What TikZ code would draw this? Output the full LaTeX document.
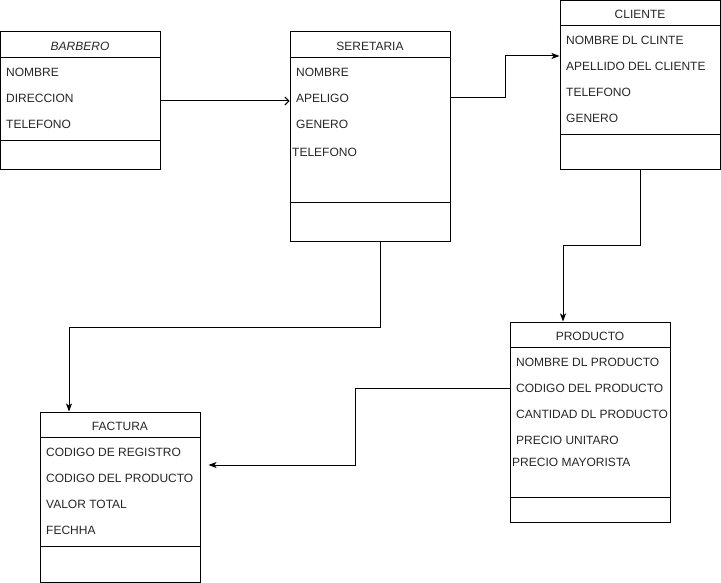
\documentclass[tikz,border=0pt]{standalone}
\usepackage{fontspec}
\setmainfont{Liberation Sans}
\usetikzlibrary{arrows.meta}
\tikzset{
  classbox/.style={draw=black, line width=1pt, minimum width=160pt, inner sep=0pt},
  attr/.style={anchor=west, inner sep=0pt, yshift=-1pt, text=black!85, font=\fontsize{12}{14}\selectfont},
  title/.style={inner sep=0pt, yshift=-1pt, text=black!85, font=\fontsize{12}{14}\selectfont},
  link/.style={line width=1pt, -{Stealth[length=8pt,width=6pt,inset=2pt]}},
}
\begin{document}
\begin{tikzpicture}[x=1pt,y=-1pt]
\useasboundingbox (0,0) rectangle (721,583);
% BARBERO
\node [classbox, minimum height=138pt] (barbero) at (80,101) {};
\node [title] (barberoT) at (80,45) {\textit{BARBERO}};
\draw [line width=1pt] ([yshift=-26pt]barbero.north west) -- ([yshift=-26pt]barbero.north east);
\draw [line width=1pt] ([yshift=30pt]barbero.south west) -- ([yshift=30pt]barbero.south east);
\node [attr] (b1) at (6,71) {NOMBRE};
\node [attr] (b2) at (6,97) {DIRECCION};
\node [attr] (b3) at (6,123) {TELEFONO};
% SERETARIA
\node [classbox, minimum height=210pt] (seretaria) at (370,137) {};
\node [title] (seretariaT) at (370,45) {SERETARIA};
\draw [line width=1pt] ([yshift=-26pt]seretaria.north west) -- ([yshift=-26pt]seretaria.north east);
\draw [line width=1pt] ([yshift=40pt]seretaria.south west) -- ([yshift=40pt]seretaria.south east);
\node [attr] (s1) at (296,71) {NOMBRE};
\node [attr] (s2) at (296,97) {APELIGO};
\node [attr] (s3) at (296,123) {GENERO};
\node [attr] (s4) at (292,151) {TELEFONO};
% CLIENTE
\node [classbox, minimum height=169pt] (cliente) at (640,85.5) {};
\node [title] (clienteT) at (640,13.5) {CLIENTE};
\draw [line width=1pt] ([yshift=-25pt]cliente.north west) -- ([yshift=-25pt]cliente.north east);
\draw [line width=1pt] ([yshift=36pt]cliente.south west) -- ([yshift=36pt]cliente.south east);
\node [attr] (c1) at (566,39) {NOMBRE DL CLINTE};
\node [attr] (c2) at (566,65) {APELLIDO DEL CLIENTE};
\node [attr] (c3) at (566,91) {TELEFONO};
\node [attr] (c4) at (566,117) {GENERO};
% PRODUCTO
\node [classbox, minimum height=200pt] (producto) at (590,422) {};
\node [title] (productoT) at (590,335) {PRODUCTO};
\draw [line width=1pt] ([yshift=-26pt]producto.north west) -- ([yshift=-26pt]producto.north east);
\draw [line width=1pt] ([yshift=25pt]producto.south west) -- ([yshift=25pt]producto.south east);
\node [attr] (p1) at (516,361) {NOMBRE DL PRODUCTO};
\node [attr] (p2) at (516,387) {CODIGO DEL PRODUCTO};
\node [attr] (p3) at (516,413) {CANTIDAD DL PRODUCTO};
\node [attr] (p4) at (516,439) {PRECIO UNITARO};
\node [attr] (p5) at (512,461) {PRECIO MAYORISTA};
% FACTURA
\node [classbox, minimum height=170pt] (factura) at (120,497) {};
\node [title] (facturaT) at (120,425) {FACTURA};
\draw [line width=1pt] ([yshift=-26pt]factura.north west) -- ([yshift=-26pt]factura.north east);
\draw [line width=1pt] ([yshift=36pt]factura.south west) -- ([yshift=36pt]factura.south east);
\node [attr] (f1) at (46,451) {CODIGO DE REGISTRO};
\node [attr] (f2) at (46,477) {CODIGO DEL PRODUCTO};
\node [attr] (f3) at (46,503) {VALOR TOTAL};
\node [attr] (f4) at (46,529) {FECHHA};
% links
\coordinate (sc) at (505,56);
\coordinate (cp) at (563,246);
\coordinate (sf) at (69,327);
\coordinate (pf) at (355,465);
\draw [line width=1pt, -{Straight Barb[length=4pt,width=8pt]}] (barbero.east) -- (seretaria.west |- barbero.east);
\draw [link] (seretaria.east |- s2) -| (sc) -- (cliente.west |- sc);
\draw [link] (cliente.south) |- (cp) -- (cp |- producto.north);
\draw [link] ([xshift=10pt]seretaria.south) |- (sf) -- (sf |- factura.north);
\draw [link] (producto.west |- p2) -| (pf) -- ([xshift=8pt]factura.east |- pf);
\end{tikzpicture}
\end{document}
